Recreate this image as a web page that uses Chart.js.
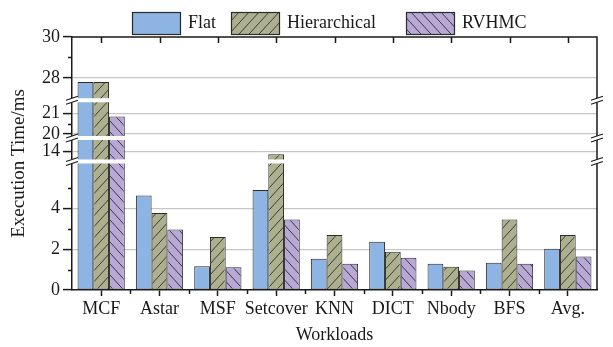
<!DOCTYPE html>
<html>
<head>
<meta charset="utf-8">
<script src="https://cdn.jsdelivr.net/npm/chart.js@4/dist/chart.umd.min.js"></script>
<style>
  html, body { margin: 0; padding: 0; background: #fff; }
  #wrap { width: 613px; height: 347px; }
</style>
</head>
<body>
<div id="wrap"><canvas id="c" width="613" height="347"></canvas></div>
<script>
// Execution time (ms) per workload for the three schemes
const workloads    = ['MCF', 'Astar', 'MSF', 'Setcover', 'KNN', 'DICT', 'Nbody', 'BFS', 'Avg.'];
const flat         = [27.8, 4.63, 1.17, 4.9, 1.53, 2.36, 1.29, 1.33, 2.02];
const hierarchical = [27.8, 3.77, 2.6, 13.85, 2.7, 1.88, 1.14, 3.45, 2.7];
const rvhmc        = [20.85, 2.97, 1.11, 3.45, 1.29, 1.58, 0.96, 1.29, 1.64];

// Broken y axis: labelled ticks, minor ticks and the visible value ranges
const yTicks      = [0, 2, 4, 14, 20, 21, 28, 30];
const yMinorTicks = [1, 3, 5, 20.5, 29];
const ySegments   = [[0, 6.3], [13.5, 14.65], [19.8, 21.65], [26.9, 30]];

const FONT = 'Liberation Serif, Times New Roman, serif';
const INK = '#1a1a1a';

// Linear scale that skips the gaps between the visible ranges
class BrokenLinearScale extends Chart.LinearScale {
  toVirtual(v) {
    let acc = 0;
    for (const [a, b] of ySegments) {
      if (v <= b) return acc + Math.max(v - a, 0);
      acc += b - a;
    }
    return acc;
  }
  fromVirtual(u) {
    let acc = 0;
    for (const [a, b] of ySegments) {
      if (u <= acc + (b - a)) return a + (u - acc);
      acc += b - a;
    }
    return ySegments[ySegments.length - 1][1];
  }
  determineDataLimits() {
    this.min = 0;
    this.max = this.toVirtual(Infinity);
  }
  buildTicks() {
    return yTicks.map(v => ({ value: v }));
  }
  getPixelForValue(v) {
    if (v === null || v === undefined) return NaN;
    return super.getPixelForValue(this.toVirtual(v));
  }
  getValueForPixel(p) {
    return this.fromVirtual(super.getValueForPixel(p));
  }
}
BrokenLinearScale.id = 'brokenLinear';
BrokenLinearScale.defaults = Chart.LinearScale.defaults;
Chart.register(BrokenLinearScale);

// Diagonal hatch fill
function hatch(color, dir) {
  const w = 10, h = 11;
  const c = document.createElement('canvas');
  c.width = w; c.height = h;
  const g = c.getContext('2d');
  g.fillStyle = color;
  g.fillRect(0, 0, w, h);
  g.strokeStyle = '#3a3a3a';
  g.lineWidth = 1;
  g.beginPath();
  if (dir === '/') {
    g.moveTo(0, h); g.lineTo(w, 0);
    g.moveTo(-2, 2); g.lineTo(2, -2);
    g.moveTo(w - 2, h + 2); g.lineTo(w + 2, h - 2);
  } else {
    g.moveTo(0, 0); g.lineTo(w, h);
    g.moveTo(w - 2, -2); g.lineTo(w + 2, 2);
    g.moveTo(-2, h - 2); g.lineTo(2, h + 2);
  }
  g.stroke();
  return g.createPattern(c, 'repeat');
}

// Frame, extra ticks, axis breaks and legend
const decorations = {
  id: 'decorations',
  afterDatasetsDraw(chart) {
    const { ctx, chartArea: a, scales: { x, y } } = chart;
    ctx.save();
    ctx.strokeStyle = INK;
    ctx.lineWidth = 1.5;
    ctx.beginPath();
    ctx.moveTo(a.left, a.top);
    ctx.lineTo(a.right, a.top);
    ctx.lineTo(a.right, a.bottom);
    ctx.stroke();

    ctx.beginPath();
    workloads.forEach((_, i) => {
      const px = Math.round(x.getPixelForValue(i)) + 0.5;
      ctx.moveTo(px, a.top);
      ctx.lineTo(px, a.top + 6);
    });
    for (let i = 1; i < workloads.length; i++) {
      const px = Math.round((x.getPixelForValue(i - 1) + x.getPixelForValue(i)) / 2) + 0.5;
      ctx.moveTo(px, a.bottom);
      ctx.lineTo(px, a.bottom + 4);
    }
    yMinorTicks.forEach(v => {
      const py = Math.round(y.getPixelForValue(v)) + 0.5;
      ctx.moveTo(a.left - 4, py);
      ctx.lineTo(a.left, py);
    });
    ctx.stroke();

    // breaks between the value ranges
    for (let k = 0; k < ySegments.length - 1; k++) {
      const py = y.getPixelForValue(ySegments[k][1]);
      ctx.fillStyle = '#fff';
      ctx.fillRect(a.left - 1, py - 2, a.right - a.left + 2, 4);
      [a.left, a.right].forEach(px => {
        ctx.fillStyle = '#fff';
        ctx.beginPath();
        ctx.moveTo(px - 6, py + 4);
        ctx.lineTo(px + 6, py);
        ctx.lineTo(px + 6, py - 4);
        ctx.lineTo(px - 6, py);
        ctx.closePath();
        ctx.fill();
        ctx.beginPath();
        ctx.lineWidth = 1.2;
        ctx.moveTo(px - 6, py + 4); ctx.lineTo(px + 6, py);
        ctx.moveTo(px - 6, py);     ctx.lineTo(px + 6, py - 4);
        ctx.stroke();
      });
    }

    // legend
    const boxLeft = [132, 231, 406];
    ctx.font = '18px ' + FONT;
    ctx.textBaseline = 'middle';
    ctx.textAlign = 'left';
    chart.data.datasets.forEach((ds, i) => {
      const bx = boxLeft[i];
      ctx.fillStyle = ds.backgroundColor;
      ctx.fillRect(bx, 12, 48, 22);
      ctx.strokeStyle = ds.borderColor;
      ctx.lineWidth = 1.2;
      ctx.strokeRect(bx + 0.5, 12.5, 48, 22);
      ctx.fillStyle = INK;
      ctx.fillText(ds.label, bx + 56, 23);
    });
    ctx.restore();
  }
};

new Chart(document.getElementById('c'), {
  type: 'bar',
  data: {
    labels: workloads,
    datasets: [
      { label: 'Flat', data: flat, backgroundColor: '#8DB4E2', borderColor: '#2a2a2a', borderWidth: 1 },
      { label: 'Hierarchical', data: hierarchical, backgroundColor: hatch('#ADB08F', '/'), borderColor: '#2a2a2a', borderWidth: 1 },
      { label: 'RVHMC', data: rvhmc, backgroundColor: hatch('#B7A8D6', '\\'), borderColor: '#2a2a2a', borderWidth: 1 }
    ]
  },
  options: {
    responsive: false,
    animation: false,
    devicePixelRatio: 1,
    layout: { padding: { left: 0, right: 16, top: 37, bottom: 0 } },
    datasets: { bar: { categoryPercentage: 0.81, barPercentage: 1, borderSkipped: false } },
    plugins: {
      legend: { display: false },
      tooltip: { enabled: false }
    },
    scales: {
      x: {
        grid: { drawOnChartArea: false, offset: false, tickLength: 6, tickColor: INK, tickWidth: 1.5 },
        border: { color: INK, width: 1.5 },
        ticks: { font: { family: FONT, size: 18 }, color: INK, padding: 2, maxRotation: 0, autoSkip: false },
        title: { display: true, text: 'Workloads', font: { family: FONT, size: 18 }, color: INK, padding: { top: 0, bottom: 1 } },
        afterFit(s) { s.height = 57; }
      },
      y: {
        type: 'brokenLinear',
        grid: {
          color: c => (c.tick && (c.tick.value === 0 || c.tick.value === 30)) ? 'rgba(0,0,0,0)' : '#c6c6c6',
          lineWidth: 1.2,
          tickLength: 9, tickColor: INK, tickWidth: 1.5
        },
        border: { color: INK, width: 1.5 },
        ticks: { font: { family: FONT, size: 18 }, color: INK, padding: 3, autoSkip: false, callback: v => String(v) },
        title: { display: true, text: 'Execution Time/ms', font: { family: FONT, size: 19 }, color: INK, padding: { top: 8, bottom: 0 } },
        afterFit(s) { s.width = 72; }
      }
    }
  },
  plugins: [decorations]
});
</script>
</body>
</html>
